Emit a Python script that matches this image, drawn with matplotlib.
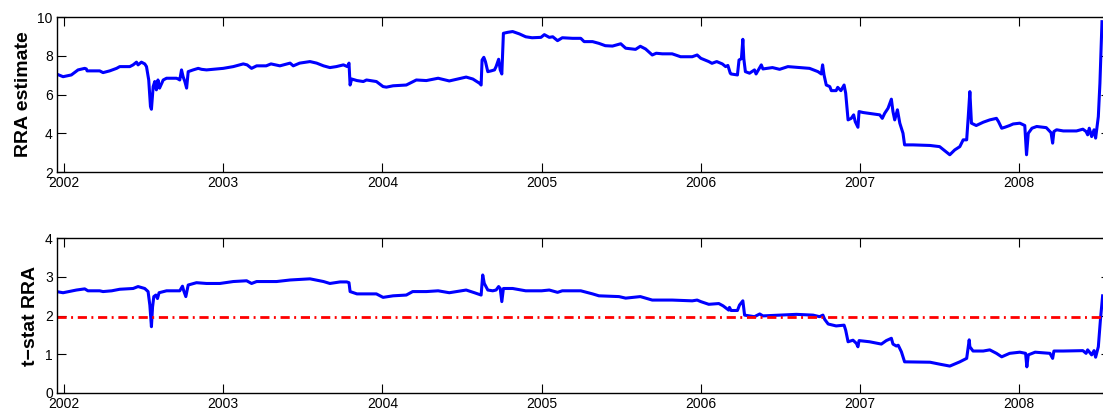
import numpy as np
import matplotlib
matplotlib.use("Agg")
import matplotlib.pyplot as plt

plt.rcParams["font.family"] = ["Liberation Sans", "DejaVu Sans"]

# RRA estimate (decimal year, value)
rra_years = [
    2001.952, 2001.994, 2002.046, 2002.088, 2002.13, 2002.14, 2002.145, 2002.224, 2002.245, 2002.287,
    2002.33, 2002.35, 2002.413, 2002.434, 2002.455, 2002.465, 2002.486, 2002.507, 2002.518, 2002.532,
    2002.543, 2002.549, 2002.56, 2002.57, 2002.58, 2002.59, 2002.60, 2002.623, 2002.644, 2002.706,
    2002.717, 2002.727, 2002.738, 2002.748, 2002.759, 2002.77, 2002.78, 2002.811, 2002.843, 2002.864,
    2002.895, 2002.937, 2003.0, 2003.063, 2003.126, 2003.15, 2003.178, 2003.21, 2003.27, 2003.30,
    2003.356, 2003.42, 2003.44, 2003.48, 2003.545, 2003.587, 2003.63, 2003.67, 2003.71, 2003.755,
    2003.78, 2003.79, 2003.797, 2003.807, 2003.84, 2003.88, 2003.90, 2003.962, 2004.004, 2004.025,
    2004.067, 2004.15, 2004.213, 2004.276, 2004.35, 2004.42, 2004.526, 2004.568, 2004.61, 2004.62,
    2004.626, 2004.637, 2004.647, 2004.662, 2004.683, 2004.704, 2004.714, 2004.73, 2004.74, 2004.75,
    2004.76, 2004.787, 2004.818, 2004.86, 2004.90, 2004.94, 2004.996, 2005.017, 2005.048, 2005.07,
    2005.10, 2005.13, 2005.194, 2005.246, 2005.267, 2005.32, 2005.36, 2005.40, 2005.445, 2005.497,
    2005.528, 2005.59, 2005.62, 2005.653, 2005.695, 2005.72, 2005.758, 2005.82, 2005.873, 2005.946,
    2005.977, 2006.0, 2006.05, 2006.07, 2006.10, 2006.135, 2006.156, 2006.17, 2006.185, 2006.19,
    2006.23, 2006.24, 2006.255, 2006.264, 2006.27, 2006.28, 2006.306, 2006.337, 2006.347, 2006.38,
    2006.39, 2006.45, 2006.495, 2006.547, 2006.62, 2006.683, 2006.736, 2006.757, 2006.765, 2006.774,
    2006.788, 2006.81, 2006.82, 2006.85, 2006.86, 2006.88, 2006.90, 2006.91, 2006.925, 2006.945,
    2006.96, 2006.97, 2006.987, 2006.994, 2007.02, 2007.08, 2007.124, 2007.14, 2007.155, 2007.176,
    2007.197, 2007.207, 2007.218, 2007.235, 2007.25, 2007.27, 2007.28, 2007.333, 2007.44, 2007.50,
    2007.564, 2007.595, 2007.627, 2007.648, 2007.67, 2007.68, 2007.69, 2007.70, 2007.73, 2007.774,
    2007.815, 2007.857, 2007.87, 2007.89, 2007.91, 2007.94, 2007.962, 2008.004, 2008.035, 2008.046,
    2008.057, 2008.08, 2008.11, 2008.17, 2008.20, 2008.21, 2008.218, 2008.235, 2008.277, 2008.36,
    2008.40, 2008.42, 2008.43, 2008.44, 2008.455, 2008.47, 2008.48, 2008.497, 2008.507, 2008.514,
    2008.52,
]
rra_values = [
    7.06, 6.92, 7.01, 7.27, 7.35, 7.32, 7.22, 7.22, 7.13, 7.22,
    7.35, 7.44, 7.44, 7.53, 7.67, 7.53, 7.67, 7.58, 7.44, 6.75,
    5.38, 5.24, 6.41, 6.67, 6.24, 6.75, 6.33, 6.75, 6.84, 6.84,
    6.80, 6.75, 7.27, 6.92, 6.67, 6.33, 7.18, 7.27, 7.35, 7.30,
    7.27, 7.30, 7.35, 7.44, 7.58, 7.53, 7.35, 7.48, 7.48, 7.58,
    7.48, 7.62, 7.48, 7.62, 7.70, 7.62, 7.48, 7.39, 7.44, 7.53,
    7.44, 7.62, 6.49, 6.80, 6.72, 6.67, 6.75, 6.67, 6.41, 6.38,
    6.45, 6.49, 6.75, 6.72, 6.84, 6.70, 6.90, 6.80, 6.58, 6.49,
    7.78, 7.92, 7.70, 7.18, 7.22, 7.27, 7.44, 7.82, 7.27, 7.06,
    9.16, 9.21, 9.25, 9.13, 8.98, 8.93, 8.95, 9.09, 8.95, 8.98,
    8.78, 8.93, 8.90, 8.90, 8.73, 8.73, 8.64, 8.52, 8.50, 8.62,
    8.39, 8.33, 8.49, 8.35, 8.04, 8.13, 8.10, 8.10, 7.95, 7.95,
    8.04, 7.87, 7.70, 7.61, 7.70, 7.58, 7.44, 7.50, 7.10, 7.06,
    7.01, 7.78, 7.85, 8.85, 7.85, 7.18, 7.10, 7.27, 7.06, 7.53,
    7.32, 7.39, 7.30, 7.44, 7.39, 7.35, 7.18, 7.06, 7.53, 7.01,
    6.49, 6.41, 6.20, 6.20, 6.37, 6.20, 6.49, 6.07, 4.69, 4.77,
    4.95, 4.60, 4.31, 5.12, 5.07, 5.00, 4.95, 4.77, 5.03, 5.29,
    5.76, 5.12, 4.69, 5.21, 4.52, 4.00, 3.40, 3.40, 3.37, 3.31,
    2.89, 3.14, 3.31, 3.66, 3.66, 4.86, 6.15, 4.52, 4.40, 4.57,
    4.69, 4.77, 4.60, 4.26, 4.31, 4.40, 4.48, 4.52, 4.40, 2.89,
    4.00, 4.26, 4.35, 4.29, 4.03, 3.49, 4.09, 4.18, 4.12, 4.12,
    4.21, 4.09, 3.92, 4.26, 3.83, 4.18, 3.75, 4.86, 6.58, 8.30,
    9.76,
]

# t-stat of RRA (decimal year, value)
tstat_years = [
    2001.952, 2001.994, 2002.078, 2002.13, 2002.15, 2002.224, 2002.245, 2002.30, 2002.35, 2002.434,
    2002.465, 2002.507, 2002.528, 2002.539, 2002.549, 2002.556, 2002.564, 2002.577, 2002.587, 2002.597,
    2002.644, 2002.727, 2002.744, 2002.752, 2002.765, 2002.78, 2002.832, 2002.895, 2002.979, 2003.063,
    2003.147, 2003.178, 2003.21, 2003.335, 2003.42, 2003.545, 2003.63, 2003.67, 2003.734, 2003.776,
    2003.79, 2003.797, 2003.84, 2003.90, 2003.962, 2004.004, 2004.067, 2004.15, 2004.19, 2004.276,
    2004.35, 2004.42, 2004.526, 2004.578, 2004.62, 2004.63, 2004.64, 2004.662, 2004.693, 2004.714,
    2004.73, 2004.74, 2004.75, 2004.76, 2004.818, 2004.90, 2005.00, 2005.048, 2005.10, 2005.13,
    2005.246, 2005.32, 2005.36, 2005.486, 2005.528, 2005.62, 2005.695, 2005.82, 2005.946, 2005.977,
    2006.0, 2006.05, 2006.113, 2006.14, 2006.175, 2006.18, 2006.19, 2006.23, 2006.243, 2006.264,
    2006.275, 2006.306, 2006.337, 2006.37, 2006.39, 2006.495, 2006.60, 2006.705, 2006.746, 2006.767,
    2006.778, 2006.80, 2006.85, 2006.90, 2006.91, 2006.925, 2006.956, 2006.977, 2006.987, 2006.994,
    2007.06, 2007.134, 2007.165, 2007.197, 2007.207, 2007.228, 2007.24, 2007.26, 2007.28, 2007.44,
    2007.50, 2007.564, 2007.627, 2007.67, 2007.686, 2007.69, 2007.71, 2007.774, 2007.815, 2007.857,
    2007.89, 2007.94, 2008.004, 2008.04, 2008.048, 2008.057, 2008.10, 2008.193, 2008.21, 2008.218,
    2008.277, 2008.40, 2008.42, 2008.43, 2008.455, 2008.47, 2008.48, 2008.497, 2008.51, 2008.524,
]
tstat_values = [
    2.62, 2.59, 2.66, 2.69, 2.64, 2.64, 2.62, 2.64, 2.68, 2.70,
    2.75, 2.70, 2.62, 2.27, 1.71, 2.22, 2.49, 2.53, 2.44, 2.59,
    2.64, 2.64, 2.76, 2.64, 2.49, 2.79, 2.85, 2.83, 2.83, 2.88,
    2.90, 2.83, 2.88, 2.88, 2.92, 2.95, 2.88, 2.83, 2.87, 2.87,
    2.85, 2.62, 2.56, 2.56, 2.56, 2.47, 2.51, 2.53, 2.62, 2.62,
    2.64, 2.59, 2.66, 2.59, 2.53, 3.05, 2.83, 2.66, 2.64, 2.66,
    2.75, 2.70, 2.36, 2.70, 2.70, 2.64, 2.64, 2.66, 2.60, 2.64,
    2.64, 2.56, 2.51, 2.49, 2.45, 2.49, 2.40, 2.40, 2.38, 2.40,
    2.36, 2.29, 2.31, 2.25, 2.14, 2.21, 2.13, 2.13, 2.27, 2.38,
    2.01, 1.99, 1.97, 2.04, 1.99, 2.01, 2.03, 2.01, 1.97, 2.01,
    1.90, 1.78, 1.73, 1.75, 1.62, 1.32, 1.36, 1.28, 1.19, 1.35,
    1.32, 1.26, 1.35, 1.41, 1.26, 1.21, 1.23, 1.06, 0.80, 0.79,
    0.74, 0.69, 0.80, 0.89, 1.37, 1.19, 1.08, 1.08, 1.11, 1.02,
    0.93, 1.02, 1.05, 1.02, 0.67, 0.98, 1.05, 1.02, 0.89, 1.08,
    1.08, 1.09, 1.02, 1.11, 0.98, 1.09, 0.92, 1.19, 1.88, 2.51,
]

crit_value = 1.96
year_ticks = [2002, 2003, 2004, 2005, 2006, 2007, 2008]
rra_ticks = [2, 4, 6, 8, 10]
tstat_ticks = [0, 1, 2, 3, 4]
x_range = (2001.956, 2008.57)


def style_axes(ax, yticks, ylim, ylabel):
    ax.set_xlim(*x_range)
    ax.set_ylim(*ylim)
    ax.set_xticks(year_ticks)
    ax.set_xticklabels([str(y) for y in year_ticks])
    ax.set_yticks(yticks)
    ax.tick_params(direction="in", length=6.5, width=0.8, top=True, right=True,
                   labelsize=10, pad=3, colors="black")
    for sp in ax.spines.values():
        sp.set_linewidth(1.0)
        sp.set_color("black")
    ax.set_ylabel(ylabel, fontsize=14, fontweight="bold", labelpad=4)


fig = plt.figure(figsize=(11.03, 4.12), dpi=100)

ax1 = fig.add_axes([0.0517, 0.5825, 1.0063 - 0.0517, 0.3762])
ax1.plot(rra_years, rra_values, color="#0000ff", lw=2.2)
style_axes(ax1, rra_ticks, (2, 10), "RRA estimate")

ax2 = fig.add_axes([0.0517, 0.0468, 1.0063 - 0.0517, 0.3748])
ax2.plot(tstat_years, tstat_values, color="#0000ff", lw=2.2)
ax2.axhline(crit_value, color="#ff0000", lw=2.0, dashes=[3.3, 1.6, 0.7, 1.7])
style_axes(ax2, tstat_ticks, (0, 4), "t\u2212stat RRA")

fig.savefig("out.png", dpi=100)
